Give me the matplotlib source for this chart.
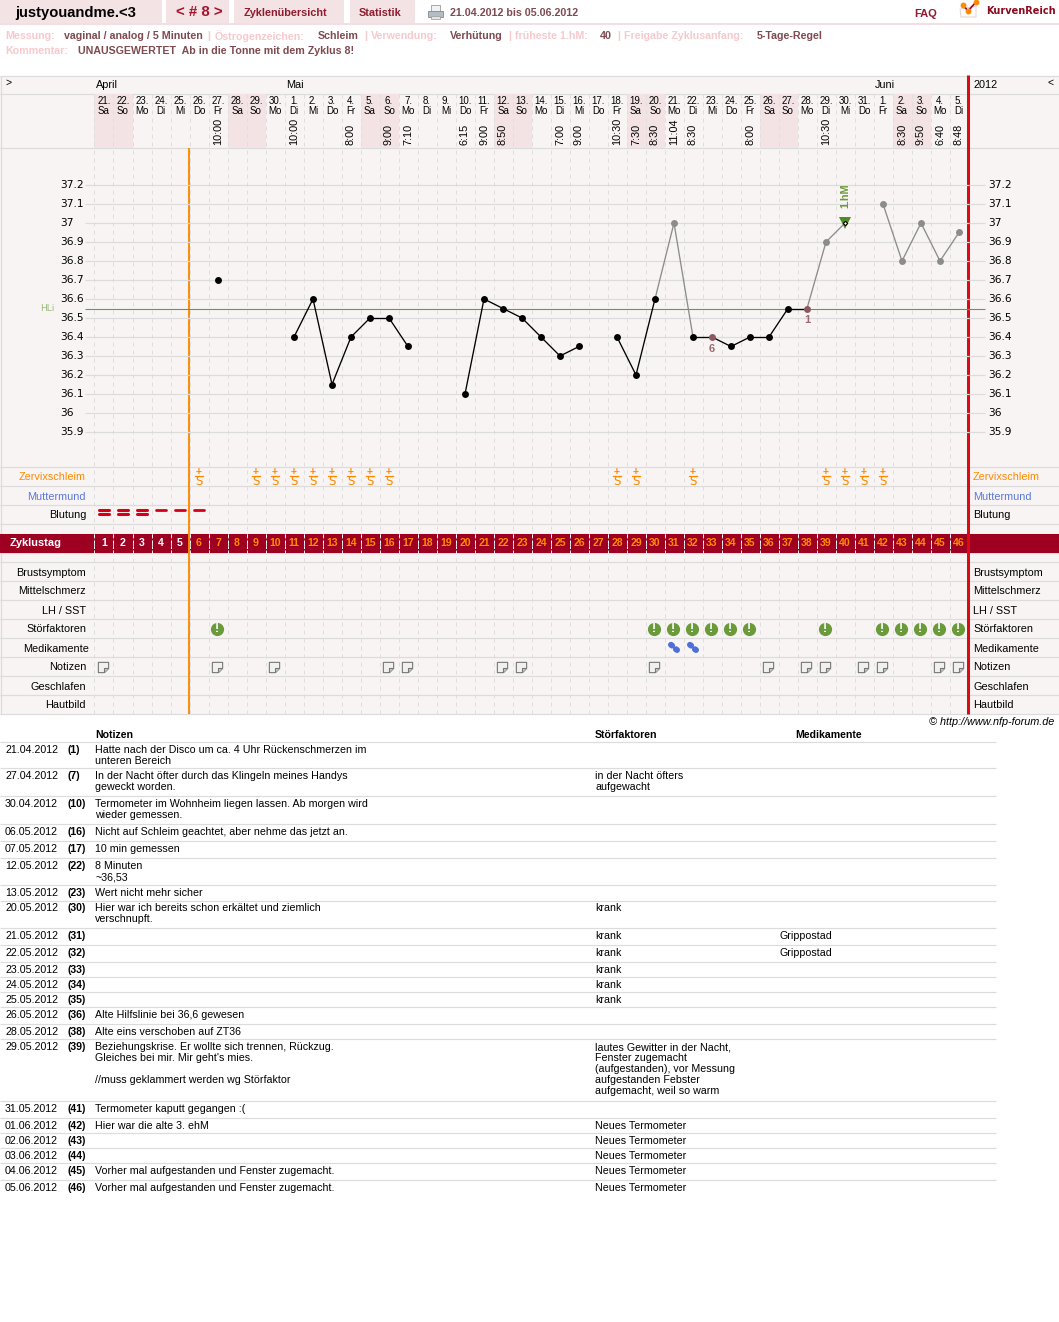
#!/usr/bin/env python3
"""Cycle chart page: temperature curve, symptom rows and the notes table."""

import matplotlib
matplotlib.use('Agg')
import matplotlib.pyplot as plt
import numpy as np
from matplotlib.path import Path
from matplotlib.patches import Rectangle

plt.rcParams['font.family'] = ['Liberation Sans', 'DejaVu Sans']

W, H = 1059, 1322

# --- data ---
day_dates = ['21.', '22.', '23.', '24.', '25.', '26.', '27.', '28.', '29.', '30.',
             '1.', '2.', '3.', '4.', '5.', '6.', '7.', '8.', '9.', '10.', '11.', '12.', '13.',
             '14.', '15.', '16.', '17.', '18.', '19.', '20.', '21.', '22.', '23.', '24.', '25.',
             '26.', '27.', '28.', '29.', '30.', '31.', '1.', '2.', '3.', '4.', '5.']
day_names = ['Sa', 'So', 'Mo', 'Di', 'Mi', 'Do', 'Fr', 'Sa', 'So', 'Mo',
             'Di', 'Mi', 'Do', 'Fr', 'Sa', 'So', 'Mo', 'Di', 'Mi', 'Do', 'Fr', 'Sa', 'So',
             'Mo', 'Di', 'Mi', 'Do', 'Fr', 'Sa', 'So', 'Mo', 'Di', 'Mi', 'Do', 'Fr',
             'Sa', 'So', 'Mo', 'Di', 'Mi', 'Do', 'Fr', 'Sa', 'So', 'Mo', 'Di']
times = {7: '10:00', 11: '10:00', 14: '8:00', 16: '9:00', 17: '7:10', 20: '6:15', 21: '9:00',
         22: '8:50', 25: '7:00', 26: '9:00', 28: '10:30', 29: '7:30', 30: '8:30', 31: '11:04',
         32: '8:30', 35: '8:00', 39: '10:30', 43: '8:30', 44: '9:50', 45: '6:40', 46: '8:48'}

temp_days = [7, 11, 12, 13, 14, 15, 16, 17, 20, 21, 22, 23, 24, 25, 26, 28, 29, 30, 31, 32,
             33, 34, 35, 36, 37, 38, 39, 40, 42, 43, 44, 45, 46]
temp_values = [36.7, 36.4, 36.6, 36.15, 36.4, 36.5, 36.5, 36.35, 36.1, 36.6, 36.55, 36.5,
               36.4, 36.3, 36.35, 36.4, 36.2, 36.6, 37.0, 36.4, 36.4, 36.35, 36.4, 36.4,
               36.55, 36.55, 36.9, 37.0, 37.1, 36.8, 37.0, 36.8, 36.95]
grey_days = [31, 39, 40, 42, 43, 44, 45, 46]
brown_days = {33: '6', 38: '1'}
temp_ticks = [37.2, 37.1, 37.0, 36.9, 36.8, 36.7, 36.6, 36.5, 36.4, 36.3, 36.2, 36.1, 36.0, 35.9]
temp_tick_labels = ['37.2', '37.1', '37', '36.9', '36.8', '36.7', '36.6', '36.5', '36.4',
                    '36.3', '36.2', '36.1', '36', '35.9']
helper_line = 36.55
first_high_day = 40
first_high_temp = 37.0

zervix_days = [6, 9, 10, 11, 12, 13, 14, 15, 16, 28, 29, 32, 39, 40, 41, 42]
bleeding_heavy = [1, 2, 3]
bleeding_light = [4, 5, 6]
factor_days = [7, 30, 31, 32, 33, 34, 35, 39, 42, 43, 44, 45, 46]
medicine_days = [31, 32]
note_days = [1, 7, 10, 16, 17, 22, 23, 30, 36, 38, 39, 41, 42, 45, 46]
row_labels = ['Zervixschleim', 'Muttermund', 'Blutung', 'Brustsymptom', 'Mittelschmerz',
              'LH / SST', 'Störfaktoren', 'Medikamente', 'Notizen', 'Geschlafen', 'Hautbild']

table_dates = ['21.04.2012', '27.04.2012', '30.04.2012', '06.05.2012', '07.05.2012',
               '12.05.2012', '13.05.2012', '20.05.2012', '21.05.2012', '22.05.2012',
               '23.05.2012', '24.05.2012', '25.05.2012', '26.05.2012', '28.05.2012',
               '29.05.2012', '31.05.2012', '01.06.2012', '02.06.2012', '03.06.2012',
               '04.06.2012', '05.06.2012']
table_days = [1, 7, 10, 16, 17, 22, 23, 30, 31, 32, 33, 34, 35, 36, 38, 39, 41, 42, 43, 44, 45, 46]
table_notes = ['Hatte nach der Disco um ca. 4 Uhr Rückenschmerzen im\nunteren Bereich',
               'In der Nacht öfter durch das Klingeln meines Handys\ngeweckt worden.',
               'Termometer im Wohnheim liegen lassen. Ab morgen wird\nwieder gemessen.',
               'Nicht auf Schleim geachtet, aber nehme das jetzt an.',
               '10 min gemessen', '8 Minuten\n~36,53', 'Wert nicht mehr sicher',
               'Hier war ich bereits schon erkältet und ziemlich\nverschnupft.',
               '', '', '', '', '',
               'Alte Hilfslinie bei 36,6 gewesen', 'Alte eins verschoben auf ZT36',
               "Beziehungskrise. Er wollte sich trennen, Rückzug.\nGleiches bei mir. Mir geht's mies.\n\n"
               '//muss geklammert werden wg Störfaktor',
               'Termometer kaputt gegangen :(', 'Hier war die alte 3. ehM', '', '',
               'Vorher mal aufgestanden und Fenster zugemacht.',
               'Vorher mal aufgestanden und Fenster zugemacht.']
table_factors = ['', 'in der Nacht öfters\naufgewacht', '', '', '', '', '', 'krank', 'krank', 'krank',
                 'krank', 'krank', 'krank', '', '',
                 'lautes Gewitter in der Nacht,\nFenster zugemacht\n(aufgestanden), vor Messung\n'
                 'aufgestanden Febster\naufgemacht, weil so warm',
                 '', 'Neues Termometer', 'Neues Termometer', 'Neues Termometer',
                 'Neues Termometer', 'Neues Termometer']
table_meds = {8: 'Grippostad', 9: 'Grippostad'}

# --- layout (pixels from the top left) ---
row_tops = [467, 486, 505, 562, 581, 600, 619, 638, 657, 676, 695]
table_tops = [742.3, 768.3, 796.3, 824.3, 841.3, 858.3, 885.3, 900.5, 928.3, 945.3, 962.3, 977.3,
              992.3, 1007.3, 1024.3, 1039.3, 1101.3, 1118.3, 1133.3, 1148.3, 1163.3, 1180.3]
PX = 0.72
GRID = '#dcdcdc'
BG = '#f9f4f4'
PINK = '#f3e3e5'
DARK_RED = '#9e0022'
ORANGE = '#ff8a00'
GREEN = '#6a9a3a'
MUTED = '#7f4a50'
PALE = '#f7c9cd'
FS = 7.8


def make_axes(fig, xlim, ylim, z):
    ax = fig.add_axes([0, 0, 1, 1], zorder=z)
    ax.set_xlim(*xlim)
    ax.set_ylim(*ylim)
    ax.set_axis_off()
    ax.patch.set_alpha(0)
    return ax


fig = plt.figure(figsize=(W / 100, H / 100), dpi=100, facecolor='white')
day_xlim = ((0 - 85) / 19, (W - 85) / 19)
page = make_axes(fig, (0, W), (H, 0), 1)
days = make_axes(fig, day_xlim, (H, 0), 2)
temp = make_axes(fig, day_xlim, (37.2 - (H - 185) / 190, 37.2 + 185 / 190), 3)


def put(x, y, s, size=FS, color='black', weight='normal', ha='left', **kw):
    page.text(x, y, s, fontsize=size, color=color, fontweight=weight, ha=ha, va='center', **kw)


# top tabs
for x0, x1 in [(0, 162), (166, 229), (234, 344), (350, 415)]:
    page.add_patch(Rectangle((x0, 0), x1 - x0, 23, fc=PINK, ec='none'))
page.add_patch(Rectangle((0, 23), W, 2, fc='#f3dfe1', ec='none'))
put(15, 12.5, 'justyouandme.<3', size=10.6, weight='bold')
put(199, 12.5, '< # 8 >', size=10.8, color='#a8142e', weight='bold', ha='center')
put(285, 12.5, 'Zyklenübersicht', size=7.8, color='#8f1c2e', weight='bold', ha='center')
put(380.5, 12.5, 'Statistik', size=7.8, color='#8f1c2e', weight='bold', ha='center')
put(450, 12.5, '21.04.2012 bis 05.06.2012', size=7.7, color=MUTED, weight='bold')
put(914, 14, 'FAQ', size=8, color='#8f1c2e', weight='bold')
put(986, 10.5, 'KurvenReich', size=7, color='#8a0a20', weight='bold', family='DejaVu Sans')

# printer icon
page.add_patch(Rectangle((431, 5), 9, 7, fc='#f2f2f2', ec='#999999', lw=0.6))
page.add_patch(Rectangle((428, 11), 15, 6, fc='#b4bcc4', ec='#808890', lw=0.6))
page.add_patch(Rectangle((431, 16), 9, 3, fc='#e4e4e4', ec='#999999', lw=0.5))

# logo
page.plot([960, 961, 976, 976, 961], [9, 17, 17, 6, 9], color='#ddcccc', lw=0.6)
page.plot([963, 968, 976], [5, 11, 2], color='#a00020', lw=1.2)
page.plot([963, 968, 976], [5, 11, 2], ls='none', marker='o', ms=3.2, color='#ff8a00')

# settings lines
settings = [(5, 'Messung:', PALE), (64, 'vaginal / analog / 5 Minuten', MUTED), (207, '|', PALE),
            (215, 'Östrogenzeichen:', PALE), (318, 'Schleim', MUTED), (364, '|', PALE),
            (371, 'Verwendung:', PALE), (450, 'Verhütung', MUTED), (508, '|', PALE),
            (515, 'früheste 1.hM:', PALE), (600, '40', MUTED), (617, '|', PALE),
            (624, 'Freigabe Zyklusanfang:', PALE), (757, '5-Tage-Regel', MUTED)]
for x, s, c in settings:
    put(x, 36, s, size=7.7, color=c, weight='bold')
put(5, 51, 'Kommentar:', size=7.7, color=PALE, weight='bold')
put(78, 51, 'UNAUSGEWERTET  Ab in die Tonne mit dem Zyklus 8!', size=7.7, color=MUTED, weight='bold')

# chart background and weekends
page.add_patch(Rectangle((0, 76), W, 638, fc=BG, ec='none'))
day_numbers = np.arange(1, 47)
weekend = [d for d, n in zip(day_numbers, day_names) if n in ('Sa', 'So')]
days.bar(weekend, 54, width=1.0, bottom=94, color=PINK, zorder=1)

# row lines
h_lines = [75.5, 94, 147.5, 467, 486, 505, 524, 534, 553, 562, 581, 600, 619, 638, 657, 676, 695, 714]
page.hlines(h_lines, 0, W, color=GRID, lw=PX * 1.2, zorder=2)
page.vlines(0.8, 75.5, 714, color=GRID, lw=PX * 1.2, zorder=2)

# column lines
edges = np.append(day_numbers[:-1] - 0.5, 45.5)
days.vlines(edges, 94, 714, color='#dedede', lw=PX, ls=(0, (4, 4)), zorder=2)

# temperature grid
temp.hlines(temp_ticks, 0, 46.5, color=GRID, lw=PX * 1.2, zorder=1)
temp.hlines(temp_ticks, 46.5, (985 - 85) / 19, color=GRID, lw=PX * 1.2, zorder=1)
temp.hlines(helper_line, 0, (985 - 85) / 19, color=GREEN, lw=PX * 1.1, zorder=2)
for t, lab in zip(temp_ticks, temp_tick_labels):
    temp.text(-25 / 19, t, lab, fontsize=7.7, family='DejaVu Sans', va='center', ha='left')
    temp.text(903 / 19, t, lab, fontsize=7.7, family='DejaVu Sans', va='center', ha='left')
temp.text(-45 / 19, helper_line, 'HLi', fontsize=6.6, color='#9ab878', va='center', ha='left',
          family='DejaVu Sans')

# curve
by_day = dict(zip(temp_days, temp_values))
for d0, d1 in zip(temp_days[:-1], temp_days[1:]):
    if d1 - d0 != 1:
        continue
    col = '#8c8c8c' if d0 in grey_days or d1 in grey_days else 'black'
    temp.plot([d0, d1], [by_day[d0], by_day[d1]], color=col, lw=0.95, zorder=4)
for d, t in zip(temp_days, temp_values):
    if d == first_high_day:
        continue
    if d in brown_days:
        col = '#8a5a5e'
    elif d in grey_days:
        col = '#8c8c8c'
    else:
        col = 'black'
    temp.plot(d, t, 'o', color=col, ms=5, mew=0, zorder=5)
for d, lab in brown_days.items():
    temp.annotate(lab, (d, by_day[d]), xytext=(0, -8.5), textcoords='offset points', ha='center',
                  va='center', fontsize=8, fontweight='bold', color='#9a6a6e', zorder=5)

# first high measurement
temp.plot(first_high_day, first_high_temp, 'v', color='#4f8a22', ms=8.5, mew=0, zorder=5)
temp.plot(first_high_day, first_high_temp, 'D', color='white', mec='black', ms=2.2, mew=0.8, zorder=6)
temp.annotate('1.hM', (first_high_day, first_high_temp), xytext=(0, 20), textcoords='offset points',
              rotation=90, ha='center', va='center', fontsize=7.8, fontweight='bold', color=GREEN)

# cycle day band
page.add_patch(Rectangle((0, 534), W, 19, fc=DARK_RED, ec='none', zorder=3))
days.vlines(edges, 534, 553, color='white', lw=PX, ls=(0, (2.5, 3.5)), zorder=4)
put(10, 543, 'Zyklustag', size=7.9, color='white', weight='bold', zorder=5)
for d in day_numbers:
    days.text(d, 543.3, str(d), fontsize=7.6, fontweight='bold', ha='center', va='center',
              color='white' if d <= 5 else ORANGE, zorder=5)

# cover lines
page.vlines(189, 148, 714, color=ORANGE, lw=PX * 1.9, zorder=6)
page.vlines(968.3, 75, 714, color='#dd0a14', lw=PX * 3, zorder=7)

# day header
for d, date, name in zip(day_numbers, day_dates, day_names):
    days.text(d, 101, date, fontsize=7, ha='center', va='center', zorder=4)
    days.text(d, 111, name, fontsize=7, ha='center', va='center', zorder=4)
for d, t in times.items():
    days.text(d, 145, t, fontsize=7.8, rotation=90, ha='center', va='bottom', zorder=4)
put(5, 83, '>', size=7.5)
put(96, 85, 'April', size=7.8)
put(286, 85, 'Mai', size=7.8)
put(875, 85, 'Juni', size=7.8)
put(973, 85, '2012', size=7.8)
put(1048, 83, '<', size=7.5)

# row labels
for top, lab in zip(row_tops, row_labels):
    col = {'Zervixschleim': ORANGE, 'Muttermund': '#5a78d8'}.get(lab, 'black')
    right = 89 if lab == 'Medikamente' else 86
    put(right, top + 10.5, lab, color=col, ha='right')
    put(973, top + 10.5, lab, color=col)

# row symbols
for d in zervix_days:
    days.text(d, 471.8, '+', fontsize=7.5, fontweight='bold', color=ORANGE, ha='center', va='center', zorder=4)
    days.text(d, 481.4, 'S', fontsize=8.4, color=ORANGE, family='DejaVu Sans', ha='center', va='center', zorder=4)
    days.plot([d - 0.2, d + 0.2], [475.7, 475.7], color=ORANGE, lw=0.9, zorder=4)
for d in bleeding_heavy:
    for y in (510, 514):
        days.plot([d - 0.24, d + 0.24], [y, y], color='#d40018', lw=2.2, solid_capstyle='round', zorder=4)
for d in bleeding_light:
    days.plot([d - 0.24, d + 0.24], [510.3, 510.3], color='#d40018', lw=2, solid_capstyle='round', zorder=4)
days.plot(np.array(factor_days) - 0.05, [628.7] * len(factor_days), 'o', color=GREEN, ms=9.5, mew=0, zorder=8)
for d in factor_days:
    days.text(d - 0.05, 629, '!', fontsize=9, fontweight='bold', color='white', ha='center', va='center', zorder=9)
for d in medicine_days:
    days.plot([d - 0.16, d - 0.1], [644.8, 645.6], color='#4f6fd8', lw=4.3, solid_capstyle='round', zorder=8)
    days.plot([d + 0.1, d + 0.16], [649.2, 650], color='#4f6fd8', lw=4.3, solid_capstyle='round', zorder=8)

note_shape = Path([(-1, 1), (1, 1), (1, -0.2), (0.2, -1), (-1, -1), (-1, 1)], closed=False)
note_fold = Path([(0.2, -1), (0.2, -0.2), (1, -0.2)], closed=False)
days.plot(np.array(note_days) - 0.05, [667] * len(note_days), ls='none', marker=note_shape, ms=7.4,
          mfc='#f0f0f0', mec='#777777', mew=0.8, zorder=8)
days.plot(np.array(note_days) - 0.05, [667] * len(note_days), ls='none', marker=note_fold, ms=7.4,
          mfc='#c8c8c8', mec='#777777', mew=0.8, zorder=9)

# notes table
page.text(1054, 722, '© http://www.nfp-forum.de', fontsize=7.8, style='italic', ha='right', va='center')
put(95, 735, 'Notizen', weight='bold', size=7.6)
put(595, 735, 'Störfaktoren', weight='bold', size=7.6)
put(795, 735, 'Medikamente', weight='bold', size=7.6)
page.hlines(table_tops, 0, 996, color=GRID, lw=PX * 1.2)
for i, top in enumerate(table_tops):
    put(5, top + 7.9, table_dates[i], size=7.65)
    put(68, top + 7.9, f'({table_days[i]})', size=7.6, weight='bold')
    for k, line in enumerate(table_notes[i].split('\n')):
        put(95, top + 7.9 + 11 * k, line, size=7.65)
    for k, line in enumerate(table_factors[i].split('\n')):
        put(595, top + 7.9 + 11 * k, line, size=7.65)
    if i in table_meds:
        put(780, top + 7.9, table_meds[i], size=7.65)

fig.savefig('out.png', dpi=100)
